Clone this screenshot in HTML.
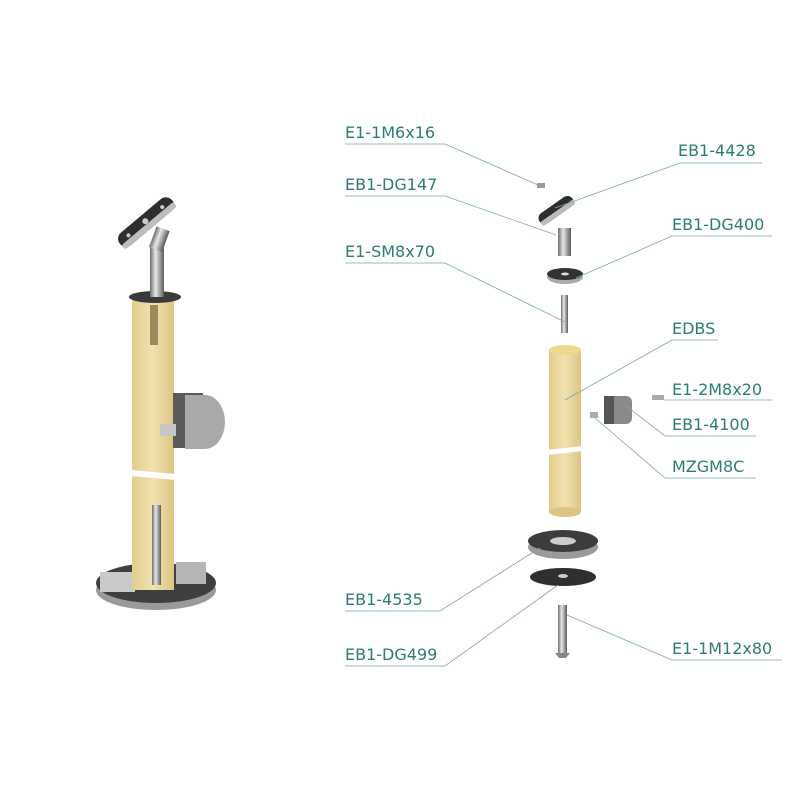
<!DOCTYPE html>
<html><head><style>
body{margin:0;background:#fff;width:800px;height:800px;overflow:hidden}
.l{position:absolute;font-family:"DejaVu Sans","Liberation Sans",sans-serif;font-size:16px;color:#2b7d72}
</style></head><body>
<svg width="800" height="800" style="position:absolute;left:0;top:0">
<defs>
<linearGradient id="st" x1="0" x2="1"><stop offset="0" stop-color="#6d6d6d"/><stop offset="0.4" stop-color="#e8e8e8"/><stop offset="1" stop-color="#5a5a5a"/></linearGradient>
<linearGradient id="wd" x1="0" x2="1"><stop offset="0" stop-color="#e2cd8c"/><stop offset="0.5" stop-color="#f1e2b0"/><stop offset="1" stop-color="#dcc482"/></linearGradient>
</defs>
<ellipse cx="156" cy="590" rx="60" ry="20" fill="#9a9a9a"/>
<ellipse cx="156" cy="583" rx="60" ry="20" fill="#3f3f3f"/>
<rect x="100" y="572" width="35" height="20" fill="#c9c9c9"/>
<rect x="176" y="562" width="30" height="22" fill="#b5b5b5"/>
<rect x="132" y="300" width="42" height="290" fill="url(#wd)"/>
<polygon points="130,470 176,474 176,480 130,476" fill="#fff"/>
<rect x="152" y="505" width="9" height="80" fill="url(#st)"/>
<rect x="150" y="305" width="8" height="40" fill="#9a8a5c"/>
<ellipse cx="155" cy="297" rx="26" ry="6" fill="#3a3a3a"/>
<rect x="150" y="245" width="14" height="52" fill="url(#st)"/>
<g transform="translate(146,222) rotate(-40)">
<rect x="-34" y="-8" width="68" height="16" rx="8" fill="#2e2e2e"/>
<rect x="-34" y="2" width="68" height="6" rx="3" fill="#bdbdbd"/>
<circle cx="0" cy="-1" r="3" fill="#ccc"/><circle cx="-22" cy="-1" r="2" fill="#ccc"/><circle cx="22" cy="-1" r="2" fill="#ccc"/>
</g>
<rect x="152" y="228" width="14" height="22" fill="url(#st)" transform="rotate(20 159 240)"/>
<rect x="173" y="393" width="30" height="55" fill="#5b5b5b"/>
<path d="M185 395 H205 A20 27 0 0 1 205 449 H185 Z" fill="#a9a9a9"/>
<rect x="160" y="424" width="16" height="12" fill="#c6c6c6"/>
<rect x="537" y="183" width="8" height="5" fill="#999"/>
<g transform="translate(556,210) rotate(-35)">
<rect x="-20" y="-6" width="40" height="12" rx="6" fill="#2e2e2e"/><rect x="-20" y="1" width="40" height="5" rx="2" fill="#bbb"/>
</g>
<rect x="558" y="228" width="13" height="28" fill="url(#st)"/>
<ellipse cx="565" cy="277" rx="18" ry="7" fill="#aaa"/>
<ellipse cx="565" cy="274" rx="18" ry="6" fill="#333"/>
<ellipse cx="565" cy="274" rx="4" ry="1.5" fill="#ddd"/>
<rect x="561" y="295" width="7" height="38" fill="url(#st)"/>
<rect x="549" y="350" width="32" height="162" fill="url(#wd)"/>
<ellipse cx="565" cy="350" rx="16" ry="5" fill="#ead98f"/>
<ellipse cx="565" cy="512" rx="16" ry="5" fill="#dcc482"/>
<polygon points="547,450 583,446 583,451 547,455" fill="#fff"/>
<rect x="604" y="396" width="28" height="28" rx="6" fill="#8a8a8a"/>
<rect x="604" y="396" width="10" height="28" fill="#555"/>
<rect x="590" y="412" width="8" height="6" fill="#aaa"/>
<rect x="652" y="395" width="12" height="5" fill="#aaa"/>
<ellipse cx="563" cy="547" rx="35" ry="12" fill="#9a9a9a"/>
<ellipse cx="563" cy="541" rx="35" ry="11" fill="#3c3c3c"/>
<ellipse cx="563" cy="541" rx="13" ry="4" fill="#ccc"/>
<ellipse cx="563" cy="577" rx="33" ry="9" fill="#2f2f2f"/>
<ellipse cx="563" cy="576" rx="5" ry="2" fill="#ccc"/>
<rect x="558" y="605" width="9" height="48" fill="url(#st)"/>
<polygon points="555,653 570,653 566,658 559,658" fill="#888"/>
<g stroke="#7aa8a0" stroke-width="0.8" fill="none">
<polyline points="345,144 445,144 538,185"/>
<polyline points="555,208 680,163 762,163"/>
<polyline points="345,196 445,196 556,235"/>
<polyline points="576,278 672,236 772,236"/>
<polyline points="345,263 445,263 565,322"/>
<polyline points="565,400 672,340 718,340"/>
<polyline points="664,400 772,400"/>
<polyline points="625,405 665,436 756,436"/>
<polyline points="595,418 665,478 756,478"/>
<polyline points="345,611 440,611 540,548"/>
<polyline points="345,666 445,666 558,585"/>
<polyline points="567,615 672,660 782,660"/>
</g>
</svg>
<div class="l" style="left:345px;top:123px">E1-1M6x16</div>
<div class="l" style="left:678px;top:141px">EB1-4428</div>
<div class="l" style="left:345px;top:175px">EB1-DG147</div>
<div class="l" style="left:672px;top:215px">EB1-DG400</div>
<div class="l" style="left:345px;top:242px">E1-SM8x70</div>
<div class="l" style="left:672px;top:319px">EDBS</div>
<div class="l" style="left:672px;top:380px">E1-2M8x20</div>
<div class="l" style="left:672px;top:415px">EB1-4100</div>
<div class="l" style="left:672px;top:457px">MZGM8C</div>
<div class="l" style="left:345px;top:590px">EB1-4535</div>
<div class="l" style="left:345px;top:645px">EB1-DG499</div>
<div class="l" style="left:672px;top:639px">E1-1M12x80</div>
</body></html>
